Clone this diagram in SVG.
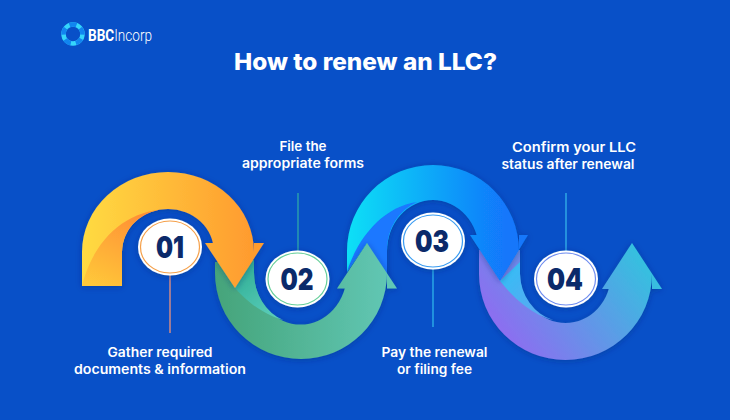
<svg xmlns="http://www.w3.org/2000/svg" width="730" height="420" viewBox="0 0 730 420">
<style>
.t{font-family:"Inter","Noto Sans",sans-serif;font-weight:600;font-size:13px;fill:#fff;text-anchor:middle}
.h{font-family:"Inter","Noto Sans",sans-serif;font-weight:800;font-size:23px;fill:#fff;text-anchor:middle}
.n{font-family:"Inter","Noto Sans",sans-serif;font-weight:900;font-size:30px;fill:#0b2a6a;text-anchor:middle}
.c{fill:#fff;filter:url(#s)}
.r{fill:none;stroke-width:1.2}
.l{stroke-width:1.3;fill:none}
</style>
<defs>
<filter id="s" x="-20%" y="-20%" width="140%" height="140%"><feDropShadow dx="0" dy="1" stdDeviation="3" flood-color="#02246e" flood-opacity=".4"/></filter>
<linearGradient id="a1" gradientUnits="userSpaceOnUse" x1="82" y1="0" x2="250" y2="0"><stop offset="0" stop-color="#ffdb42"/><stop offset="1" stop-color="#ff9c2f"/></linearGradient>
<linearGradient id="w1" gradientUnits="userSpaceOnUse" x1="140" y1="215" x2="100" y2="290"><stop offset="0" stop-color="#ff9035"/><stop offset="1" stop-color="#ffc83a"/></linearGradient>
<linearGradient id="a2" gradientUnits="userSpaceOnUse" x1="215" y1="0" x2="395" y2="0"><stop offset="0" stop-color="#45a47a"/><stop offset="1" stop-color="#62c8b6"/></linearGradient>
<linearGradient id="w2" gradientUnits="userSpaceOnUse" x1="240" y1="265" x2="285" y2="322"><stop offset="0" stop-color="#2fae95"/><stop offset="1" stop-color="#62d2c0"/></linearGradient>
<linearGradient id="a3" gradientUnits="userSpaceOnUse" x1="347" y1="0" x2="505" y2="0"><stop offset="0" stop-color="#0be0f6"/><stop offset="1" stop-color="#1277fb"/></linearGradient>
<linearGradient id="a4" gradientUnits="userSpaceOnUse" x1="515" y1="350" x2="650" y2="250"><stop offset="0" stop-color="#8c6ef0"/><stop offset="1" stop-color="#2fc6de"/></linearGradient>
<linearGradient id="w4" gradientUnits="userSpaceOnUse" x1="505" y1="270" x2="560" y2="325"><stop offset="0" stop-color="#35bdf5"/><stop offset="1" stop-color="#6aa0f0"/></linearGradient>
</defs>
<rect width="730" height="420" fill="#0850c8"/>
<g id="logo">
<circle cx="73" cy="34" r="9.500" fill="none" stroke="#35d6fb" stroke-width="4.500"/>
<circle cx="73" cy="34" r="9.500" fill="none" stroke="#1185f0" stroke-width="4.500" stroke-dasharray="7 5" transform="rotate(30 73 34)"/>
<text x="88" y="41" textLength="64" lengthAdjust="spacingAndGlyphs" style="font-family:'Roboto','Liberation Sans',sans-serif;font-size:17px;fill:#fff"><tspan font-weight="700">BBC</tspan><tspan font-weight="300">Incorp</tspan></text>
</g>
<text id="title" class="h" x="365.500" y="70" textLength="263" lengthAdjust="spacingAndGlyphs">How to renew an LLC?</text>
<g id="arrows">
<g id="arrow4" filter="url(#s)">
<path fill="url(#a4)" d="M479 250V274A86.500 86 0 0 0 652 274V289H662L632 243L602 289H611V274A45.500 49 0 0 1 520 274V250Z"/>
<path fill="url(#w4)" d="M500 281C515 300 535 316 553 320A45.500 49 0 0 1 520 274V262Z"/>
</g>
<g id="arrow3" filter="url(#s)">
<path fill="url(#a3)" d="M347 272V251A86 86 0 0 1 519 251V235H528L500 281L470 235H479V251A46 51 0 0 0 387 251V280L367 243Z"/>
<path fill="#1a78ff" d="M347 272C358 236 385 206 417 202A46 51 0 0 0 387 251V280L367 243Z"/>
</g>
<g id="arrow2" filter="url(#s)">
<path fill="url(#a2)" d="M215 262V273A86 86 0 0 0 387 273V288.500H397L367 243L337 288.500H347V273A46 51 0 0 1 254 273V260Z"/>
<path fill="url(#w2)" d="M235 288C248 303 265 315 283 320A46 51 0 0 1 254 273V260Z"/>
</g>
<g id="arrow1" filter="url(#s)">
<path fill="url(#a1)" d="M82 286V252A86 80 0 0 1 254 252V243H264L235 288L205 243H214V252A46 43 0 0 0 122 252V286Z"/>
<path fill="url(#w1)" d="M82 286C92 245 120 214 160 209.500A46 43 0 0 0 122 252V286Z"/>
</g>
</g>
<g id="connectors">
<path class="l" stroke="#f0937c" d="M170 275V333"/>
<path class="l" stroke="#2fa8a8" d="M298 193V251"/>
<path class="l" stroke="#2fb4ea" d="M433 269V327"/>
<path class="l" stroke="#35b4ea" d="M566 193V251"/>
</g>
<g id="node1">
<ellipse class="c" cx="170" cy="247" rx="32" ry="28.500"/>
<ellipse class="r" cx="170" cy="247" rx="29.500" ry="26" stroke="#f5a04a"/>
<text class="n" x="170" y="258" textLength="28" lengthAdjust="spacingAndGlyphs">01</text>
<text class="t" x="160" y="357" textLength="105" lengthAdjust="spacingAndGlyphs">Gather required</text>
<text class="t" x="160" y="374" textLength="172" lengthAdjust="spacingAndGlyphs">documents &amp; information</text>
</g>
<g id="node2">
<ellipse class="c" cx="297.500" cy="279" rx="32" ry="28.500"/>
<ellipse class="r" cx="297.500" cy="279" rx="29.500" ry="26" stroke="#66cf9a"/>
<text class="n" x="297" y="290" textLength="33" lengthAdjust="spacingAndGlyphs">02</text>
<text class="t" x="303" y="151" textLength="47" lengthAdjust="spacingAndGlyphs">File the</text>
<text class="t" x="303" y="168" textLength="122" lengthAdjust="spacingAndGlyphs">appropriate forms</text>
</g>
<g id="node3">
<ellipse class="c" cx="433" cy="241" rx="32" ry="28.500"/>
<ellipse class="r" cx="433" cy="241" rx="29.500" ry="26" stroke="#3a9cf2"/>
<text class="n" x="432" y="252" textLength="34" lengthAdjust="spacingAndGlyphs">03</text>
<text class="t" x="434.500" y="357" textLength="106" lengthAdjust="spacingAndGlyphs">Pay the renewal</text>
<text class="t" x="434.500" y="374" textLength="75" lengthAdjust="spacingAndGlyphs">or filing fee</text>
</g>
<g id="node4">
<ellipse class="c" cx="566" cy="279" rx="32" ry="28.500"/>
<ellipse class="r" cx="566" cy="279" rx="29.500" ry="26" stroke="#6f8df0"/>
<text class="n" x="565" y="290" textLength="36" lengthAdjust="spacingAndGlyphs">04</text>
<text class="t" x="574" y="152" textLength="124" lengthAdjust="spacingAndGlyphs">Confirm your LLC</text>
<text class="t" x="568" y="169" textLength="133" lengthAdjust="spacingAndGlyphs">status after renewal</text>
</g>
</svg>
